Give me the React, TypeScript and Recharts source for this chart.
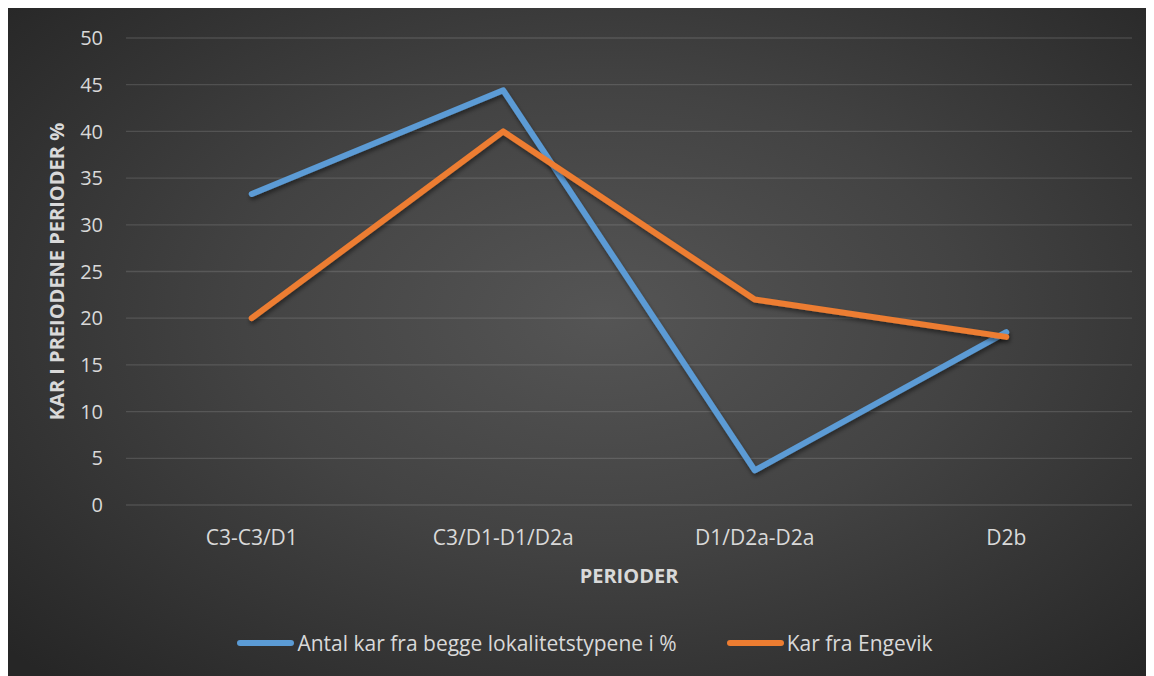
import { LineChart, Line, XAxis, YAxis, CartesianGrid, Legend } from 'recharts';

// periods on the x axis
const periods = ["C3-C3/D1", "C3/D1-D1/D2a", "D1/D2a-D2a", "D2b"];
// both site types, percent
const bothSites = [33.3, 44.4, 3.7, 18.5];
// Engevik only
const engevik = [20, 40, 22, 18];
const yTicks = [0, 5, 10, 15, 20, 25, 30, 35, 40, 45, 50];

const data = periods.map((p, i) => ({ period: p, both: bothSites[i], engevik: engevik[i] }));

const FONT = "'Open Sans', sans-serif";
const TEXT = '#d9d9d9';

function LegendContent(props: any) {
  const items = props.payload || [];
  return (
    <div style={{ display: 'flex', justifyContent: 'center', alignItems: 'center', height: 40, paddingLeft: 30, fontFamily: FONT, fontSize: 21, color: TEXT }}>
      {items.map((it: any, i: number) => (
        <div key={i} style={{ display: 'flex', alignItems: 'center', marginLeft: i ? 50 : 0 }}>
          <div style={{ width: 57, height: 6, borderRadius: 3, background: it.color, marginRight: 3 }} />
          <span>{it.value}</span>
        </div>
      ))}
    </div>
  );
}

export default function App() {
  return (
    <div
      style={{
        width: 1146,
        height: 668,
        background: 'radial-gradient(ellipse 70% 75% at 52% 46%, #555555 0%, #434343 45%, #262626 100%)',
      }}
    >
      <LineChart
        width={1146}
        height={668}
        data={data}
        margin={{ top: 30, right: 22, left: 0, bottom: 13 }}
      >
        <defs>
          <filter id="shadow" x="-5%" y="-5%" width="110%" height="115%">
            <feDropShadow dx="1" dy="3" stdDeviation="2" floodColor="#000" floodOpacity="0.45" />
          </filter>
        </defs>
        <CartesianGrid vertical={false} stroke="#ffffff" strokeOpacity={0.13} strokeWidth={1.3} />
        <XAxis
          dataKey="period"
          scale="band"
          height={118}
          axisLine={false}
          tickLine={false}
          tickSize={0}
          tickMargin={25}
          tick={{ fill: TEXT, fontSize: 21, fontFamily: FONT }}
          label={{
            value: 'PERIODER',
            position: 'insideBottom',
            offset: 40,
            style: { fill: TEXT, fontSize: 20, fontWeight: 700, fontFamily: FONT },
          }}
        />
        <YAxis
          width={118}
          domain={[0, 50]}
          ticks={yTicks}
          interval={0}
          axisLine={false}
          tickLine={false}
          tickSize={0}
          tickMargin={23}
          tick={{ fill: TEXT, fontSize: 20, fontFamily: FONT }}
          label={{
            value: 'KAR I PREIODENE PERIODER %',
            angle: -90,
            position: 'insideLeft',
            offset: 49,
            style: { textAnchor: 'middle', fill: TEXT, fontSize: 20, fontWeight: 700, fontFamily: FONT },
          }}
        />
        <Legend verticalAlign="bottom" height={40} content={<LegendContent />} />
        <Line
          type="linear"
          dataKey="both"
          name="Antal kar fra begge lokalitetstypene i %"
          stroke="#5B9BD5"
          strokeWidth={6}
          strokeLinecap="round"
          strokeLinejoin="round"
          dot={false}
          filter="url(#shadow)"
          isAnimationActive={false}
        />
        <Line
          type="linear"
          dataKey="engevik"
          name="Kar fra Engevik"
          stroke="#ED7D31"
          strokeWidth={6}
          strokeLinecap="round"
          strokeLinejoin="round"
          dot={false}
          filter="url(#shadow)"
          isAnimationActive={false}
        />
      </LineChart>
    </div>
  );
}
